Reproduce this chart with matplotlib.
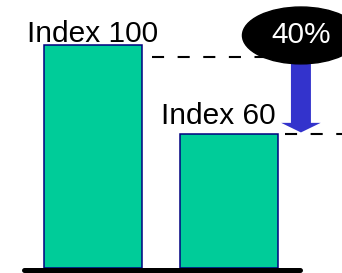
import numpy as np
import matplotlib.pyplot as plt
from matplotlib.patches import Ellipse, FancyArrow

# data
labels = ['Index 100', 'Index 60']
values = [100, 60]
drop_label = '40%'

plt.rcParams['font.family'] = ['Liberation Sans', 'DejaVu Sans']

fig = plt.figure(figsize=(3.42, 2.73), dpi=100)
ax = fig.add_axes([0, 0, 1, 1])
ax.set_xlim(-0.684, 1.831)
ax.set_ylim(-2.24, 120.2)
ax.axis('off')

x = np.arange(len(values))
ax.bar(x, values, width=0.72, color='#00CC99', edgecolor='#000080', linewidth=1.1, zorder=2)

# base line
ax.plot([-0.507, 1.522], [-0.9, -0.9], color='black', lw=3.6, solid_capstyle='round', zorder=3)

# labels above bars
ax.text(x[0], values[0] + 1.3, labels[0], ha='center', va='baseline', fontsize=21.5, zorder=4)
ax.text(x[1] - 0.08, values[1] + 4.6, labels[1], ha='center', va='baseline', fontsize=21.5, zorder=4)

# dashed reference lines
ax.plot([0.434, 1.5], [values[0] - 5.4, values[0] - 5.4], color='black', lw=1.5,
        dashes=(5.8, 6.5), zorder=1)
ax.plot([1.412, 1.9], [values[1], values[1]], color='black', lw=1.5,
        dashes=(5.8, 6.5), zorder=1)

# arrow
ax.add_patch(FancyArrow(1.529, 95, 0, values[1] + 0.8 - 95, width=0.147, head_width=0.29,
                        head_length=4.3, length_includes_head=True, color='#3333CC',
                        linewidth=0, zorder=3))

# ellipse with percentage
ax.add_patch(Ellipse((1.529, 104.3), 0.86, 25.5, color='black', zorder=5))
ax.text(1.529, 104.3, drop_label, ha='center', va='center', color='white', fontsize=21.5, zorder=6)

fig.savefig('out.png', dpi=100)
